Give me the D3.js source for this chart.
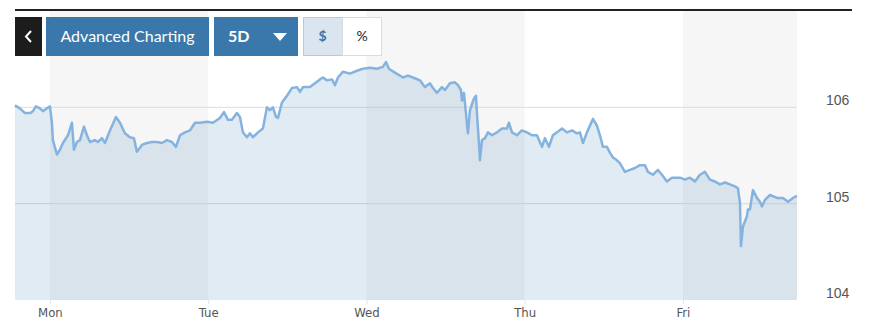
<!DOCTYPE html>
<html>
<head>
<meta charset="utf-8">
<script src="https://cdn.jsdelivr.net/npm/d3@7"></script>
<style>
  html, body { margin: 0; padding: 0; background: #fff; }
  svg { display: block; font-family: Lato, "Open Sans", sans-serif; }
</style>
</head>
<body>
<svg id="chart" width="870" height="333"></svg>
<script>
// hours since Monday 00:00, and price
const hours = [-5.31,-4.55,-3.79,-3.03,-2.58,-2.12,-1.52,-1.06,-0.45,0,0.30,0.45,1.06,1.52,1.97,2.73,3.34,3.64,4.09,4.55,5.16,5.61,6.07,6.82,7.28,7.89,8.34,9.10,10.01,10.62,11.37,12.13,12.74,13.19,13.95,14.71,15.47,16.23,16.99,17.74,18.50,19.11,19.72,20.47,21.23,21.99,22.75,23.81,
  24.72,25.78,26.39,27.00,27.60,28.36,28.82,29.27,29.88,30.33,30.79,31.55,32.30,32.91,33.37,33.82,34.28,34.58,35.19,35.94,36.70,37.46,37.92,38.37,39.43,40.19,40.95,41.40,42.01,42.77,43.22,43.68,44.44,45.50,46.56,47.47,48.53,49.59,50.50,50.96,51.41,52.32,53.08,
  53.54,54.29,55.05,56.11,56.87,57.63,58.09,58.69,59.45,59.91,60.66,61.42,61.88,62.33,62.48,62.79,63.09,63.39,63.70,64.30,64.61,64.76,65.06,65.21,65.52,65.97,66.43,67.03,67.79,68.55,69.31,69.61,70.07,70.83,71.58,72.34,73.10,73.86,74.62,75.07,75.68,76.28,76.89,77.65,78.41,79.17,79.92,80.38,80.84,81.44,81.90,82.35,82.96,83.41,83.87,84.47,84.93,85.38,85.99,86.44,87.20,87.96,88.72,89.48,90.24,90.69,91.45,92.21,92.82,93.57,94.33,95.09,95.54,96.30,97.06,97.82,98.58,99.34,100.09,100.85,101.61,102.37,103.13,103.89,104.34,104.65,104.80,105.10,105.71,105.86,106.16,106.62,107.22,107.68,107.98,108.44,109.20,110.26,111.17,111.93,112.69,113.30];
const prices = [106.02,105.99,105.94,105.94,105.96,106.01,105.99,105.96,105.99,106.01,105.84,105.66,105.51,105.56,105.63,105.71,105.84,105.56,105.64,105.66,105.80,105.71,105.64,105.66,105.64,105.68,105.63,105.76,105.90,105.84,105.73,105.69,105.68,105.54,105.61,105.63,105.64,105.64,105.63,105.66,105.64,105.59,105.71,105.74,105.76,105.84,105.84,105.85,
  105.84,105.89,105.95,105.87,105.87,105.94,105.90,105.74,105.69,105.73,105.69,105.74,105.78,106.00,105.97,106.00,105.90,105.89,106.05,106.12,106.20,106.21,106.16,106.21,106.21,106.25,106.29,106.31,106.28,106.29,106.23,106.31,106.37,106.35,106.38,106.40,106.41,106.40,106.42,106.47,106.40,106.36,106.33,
  106.31,106.33,106.31,106.28,106.21,106.25,106.20,106.15,106.21,106.18,106.25,106.26,106.23,106.18,106.07,106.15,105.94,105.73,105.97,106.09,106.12,105.94,105.63,105.45,105.66,105.68,105.74,105.71,105.74,105.78,105.78,105.84,105.74,105.71,105.76,105.74,105.71,105.71,105.59,105.68,105.59,105.71,105.74,105.78,105.74,105.76,105.73,105.74,105.63,105.74,105.81,105.88,105.81,105.71,105.59,105.59,105.53,105.48,105.45,105.42,105.33,105.35,105.37,105.40,105.40,105.33,105.30,105.35,105.30,105.23,105.27,105.27,105.27,105.25,105.27,105.23,105.30,105.33,105.25,105.23,105.20,105.22,105.20,105.18,105.16,105.01,104.56,104.76,104.87,104.94,104.94,105.14,105.06,105.02,104.97,105.04,105.09,105.06,105.06,105.02,105.06,105.08];

const dayNames = ['Mon', 'Tue', 'Wed', 'Thu', 'Fri'];
const dayStarts = [0, 24, 48, 72, 96];
const yTicks = [104, 105, 106];

const svg = d3.select('#chart');
const plotL = 15, plotR = 797, plotT = 11, plotB = 300;

const x = d3.scaleLinear().domain([-5.3, 113.3]).range([plotL, plotR]);
const y = d3.scaleLinear().domain([104, 107]).range([plotB, plotT]);

// day bands, Mon / Wed / Fri shaded
svg.append('g').selectAll('rect')
  .data(dayStarts.filter((d, i) => i % 2 == 0))
  .join('rect')
    .attr('x', d => x(d))
    .attr('y', plotT)
    .attr('width', d => Math.min(x(d + 24), plotR) - x(d))
    .attr('height', plotB - plotT)
    .attr('fill', '#f6f6f6');

// grid
svg.append('g').selectAll('line')
  .data(yTicks.slice(1))
  .join('line')
    .attr('x1', plotL).attr('x2', plotR)
    .attr('y1', d => y(d)).attr('y2', d => y(d))
    .attr('stroke', '#dcdcdc').attr('stroke-width', 1);

const pts = hours.map((h, i) => [h, prices[i]]);

const area = d3.area()
  .x(d => x(d[0]))
  .y0(plotB)
  .y1(d => y(d[1]));

const line = d3.line()
  .x(d => x(d[0]))
  .y(d => y(d[1]));

svg.append('path')
  .datum(pts)
  .attr('d', area)
  .attr('fill', 'rgb(70,130,180)')
  .attr('fill-opacity', 0.16);

svg.append('path')
  .datum(pts)
  .attr('d', line)
  .attr('fill', 'none')
  .attr('stroke', '#85b3df')
  .attr('stroke-width', 2.5)
  .attr('stroke-linejoin', 'round');

// x axis
const xAxis = d3.axisBottom(x)
  .tickValues(dayStarts)
  .tickFormat((d, i) => dayNames[i])
  .tickSize(4)
  .tickPadding(4);
const gx = svg.append('g').attr('transform', `translate(0,${plotB})`).call(xAxis);
gx.select('.domain').remove();
gx.selectAll('line').attr('stroke', '#e4e4e4');
gx.selectAll('text').attr('fill', '#555').style('font-size', '13px')
  .style('font-family', '"DejaVu Sans Condensed", Lato, sans-serif')
  .style('font-stretch', 'condensed');

// y axis on the right
const yAxis = d3.axisRight(y).tickValues(yTicks).tickFormat(d3.format('d')).tickSize(0).tickPadding(0);
const gy = svg.append('g').attr('transform', `translate(826,-7)`).call(yAxis);
gy.select('.domain').remove();
gy.selectAll('text').attr('fill', '#555').style('font-size', '14px').attr('x', 0);

// top rule
svg.append('line')
  .attr('x1', 15).attr('x2', 852).attr('y1', 10).attr('y2', 10)
  .attr('stroke', '#222').attr('stroke-width', 2);

// toolbar
const tb = svg.append('g');
tb.append('rect').attr('x', 15).attr('y', 17).attr('width', 27).attr('height', 39).attr('fill', '#1c1c1c');
tb.append('path').attr('d', 'M31,31 L26,36.5 L31,42').attr('fill', 'none')
  .attr('stroke', '#fff').attr('stroke-width', 2);

tb.append('rect').attr('x', 46).attr('y', 17).attr('width', 163).attr('height', 39).attr('fill', '#3a77aa');
tb.append('text').attr('x', 127.5).attr('y', 42).attr('text-anchor', 'middle')
  .attr('fill', '#fff').style('font-size', '16px').text('Advanced Charting');

tb.append('rect').attr('x', 214).attr('y', 17).attr('width', 84).attr('height', 39).attr('fill', '#3a77aa');
tb.append('text').attr('x', 228).attr('y', 42)
  .attr('fill', '#fff').style('font-size', '16px').style('font-weight', 'bold').text('5D');
tb.append('path').attr('d', 'M273,33 L287,33 L280,41 Z').attr('fill', '#fff');

tb.append('rect').attr('x', 303.5).attr('y', 17.5).attr('width', 39).attr('height', 38)
  .attr('fill', '#dae5ef').attr('stroke', '#b9c9d8');
tb.append('rect').attr('x', 342.5).attr('y', 17.5).attr('width', 39).attr('height', 38)
  .attr('fill', '#fff').attr('stroke', '#d4dde6');
tb.append('text').attr('x', 322.5).attr('y', 41).attr('text-anchor', 'middle')
  .attr('fill', '#3a77aa').style('font-size', '14px').style('font-weight', 'bold').text('$');
tb.append('text').attr('x', 362).attr('y', 41).attr('text-anchor', 'middle')
  .attr('fill', '#222').style('font-size', '14px').text('%');
</script>
</body>
</html>
